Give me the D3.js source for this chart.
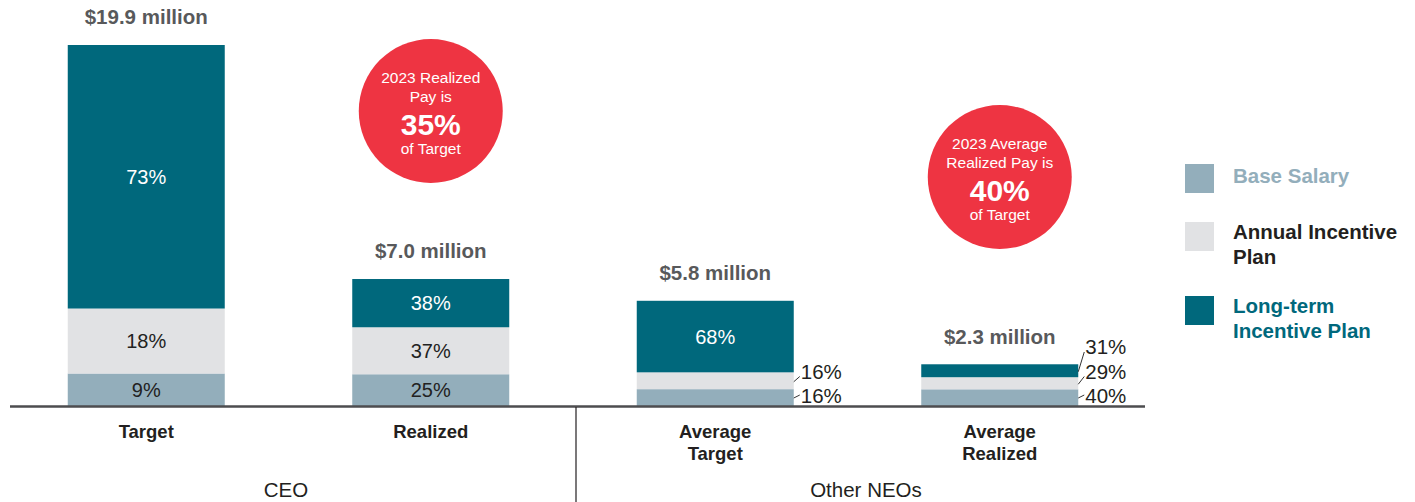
<!DOCTYPE html>
<html lang="en">
<head>
    <meta charset="UTF-8">
    <script src="https://cdnjs.cloudflare.com/ajax/libs/d3/7.8.5/d3.min.js"></script>
    <style>
        body { margin: 0; background: #fff; }
        svg text { font-family: "Liberation Sans", Arial, Helvetica, sans-serif; }
    </style>
</head>
<body>
<div id="viz">
    <svg style="width:1415px;height:502px;"></svg>
</div>
<script>
    // data
    const categories = ['Target', 'Realized', 'Average Target', 'Average Realized'];
    const groups = ['CEO', 'Other NEOs'];
    const totals = [19.9, 7.0, 5.8, 2.3];                 // $ million
    const totalLabels = ['$19.9 million', '$7.0 million', '$5.8 million', '$2.3 million'];
    const components = ['Base Salary', 'Annual Incentive Plan', 'Long-term Incentive Plan'];
    const basePct = [9, 25, 16, 40];
    const aipPct = [18, 37, 16, 29];
    const ltiPct = [73, 38, 68, 31];
    const callouts = [
        {cat: 'Realized', lines: ['2023 Realized', 'Pay is'], pct: '35%'},
        {cat: 'Average Realized', lines: ['2023 Average', 'Realized Pay is'], pct: '40%'}
    ];

    const colors = ['#93AEBB', '#E1E2E4', '#00687C'];
    const labelColors = ['#222', '#222', '#fff'];
    const legendText = ['#93AEBB', '#231F20', '#00687C'];

    const svg = d3.select('svg');

    const x = d3.scaleBand().domain(categories).range([4, 1142]);
    const barW = 157;
    const y = d3.scaleLinear().domain([0, 19.9]).range([406, 45]);
    const color = d3.scaleOrdinal().domain(components).range(colors);

    const rows = categories.map((c, i) => ({
        cat: c, total: totals[i], label: totalLabels[i],
        pcts: [basePct[i], aipPct[i], ltiPct[i]]
    }));

    const stack = d3.stack().keys([0, 1, 2]).value((d, k) => d.total * d.pcts[k] / 100);
    const series = stack(rows);

    const barX = d => x(d.cat) + x.bandwidth() / 2 - barW / 2;
    const segH = d => y(d[0]) - y(d[1]);
    const fits = d => segH(d) >= 25;

    // segments
    series.forEach((s, k) => {
        svg.append('g').selectAll('rect')
            .data(s).enter()
            .append('rect')
            .attr('x', d => barX(d.data))
            .attr('width', barW)
            .attr('y', d => y(d[1]))
            .attr('height', segH)
            .attr('fill', color(components[k]));

        // labels inside the bar
        svg.append('g').selectAll('text')
            .data(s.filter(fits)).enter()
            .append('text')
            .attr('x', d => barX(d.data) + barW / 2)
            .attr('y', d => (y(d[0]) + y(d[1])) / 2)
            .attr('dy', '0.36em')
            .attr('text-anchor', 'middle')
            .style('font-size', '20px')
            .style('fill', labelColors[k])
            .text(d => d.data.pcts[k] + '%');

        // labels outside with leader lines
        const out = svg.append('g').selectAll('g')
            .data(s.filter(d => !fits(d))).enter()
            .append('g');
        const ly = k2 => y(0) - 10 - k2 * 24.5;
        out.append('line')
            .attr('x1', d => barX(d.data) + barW)
            .attr('y1', d => k === 0 ? y(0) - 8 : (y(d[0]) + y(d[1])) / 2 + 1)
            .attr('x2', d => barX(d.data) + barW + 6)
            .attr('y2', d => ly(k) + (k === 0 ? -1 : 5))
            .attr('stroke', '#333')
            .attr('stroke-width', 1);
        out.append('text')
            .attr('x', d => barX(d.data) + barW + 7)
            .attr('y', d => ly(k))
            .attr('dy', '0.36em')
            .style('font-size', '20.5px')
            .style('fill', '#231F20')
            .text(d => d.data.pcts[k] + '%');
    });

    // totals above bars
    svg.append('g').selectAll('text')
        .data(rows).enter()
        .append('text')
        .attr('x', d => x(d.cat) + x.bandwidth() / 2)
        .attr('y', d => y(d.total) - 28)
        .attr('dy', '0.36em')
        .attr('text-anchor', 'middle')
        .style('font-size', '20.5px')
        .style('font-weight', 'bold')
        .style('fill', '#58595B')
        .text(d => d.label);

    // baseline and divider
    svg.append('line')
        .attr('x1', 10).attr('x2', 1145)
        .attr('y1', y(0) + 0.5).attr('y2', y(0) + 0.5)
        .attr('stroke', '#4d4d4f').attr('stroke-width', 2.5);
    const divX = (x('Realized') + x('Average Target') + x.bandwidth()) / 2 + 3;
    svg.append('line')
        .attr('x1', divX).attr('x2', divX)
        .attr('y1', y(0) + 1).attr('y2', 502)
        .attr('stroke', '#231F20').attr('stroke-width', 1.2);

    // category labels
    const catLab = svg.append('g').selectAll('text')
        .data(categories).enter()
        .append('text')
        .attr('y', 431)
        .attr('text-anchor', 'middle')
        .style('font-size', '18.5px')
        .style('font-weight', 'bold')
        .style('fill', '#231F20');
    catLab.each(function (d) {
        const t = d3.select(this);
        d.split(' ').forEach((w, i) => {
            t.append('tspan')
                .attr('x', x(d) + x.bandwidth() / 2)
                .attr('dy', i === 0 ? '0.36em' : '22px')
                .text(w);
        });
    });

    // group labels
    svg.append('g').selectAll('text')
        .data(groups).enter()
        .append('text')
        .attr('x', (d, i) => divX + (i === 0 ? -1 : 1) * 290)
        .attr('y', 490)
        .attr('dy', '0.36em')
        .attr('text-anchor', 'middle')
        .style('font-size', '20.5px')
        .style('fill', '#231F20')
        .text(d => d);

    // callout circles
    const circleY = [111, 177];
    const cg = svg.append('g').selectAll('g')
        .data(callouts).enter()
        .append('g')
        .attr('transform', (d, i) => `translate(${x(d.cat) + x.bandwidth() / 2},${circleY[i]})`);
    cg.append('circle').attr('r', 72).attr('fill', '#EE3442');
    cg.each(function (d) {
        const g = d3.select(this);
        d.lines.forEach((l, i) => {
            g.append('text').attr('y', -34 + i * 19).attr('dy', '0.36em')
                .attr('text-anchor', 'middle')
                .style('font-size', '15.5px').style('fill', '#fff').text(l);
        });
        g.append('text').attr('y', 13).attr('dy', '0.36em')
            .attr('text-anchor', 'middle')
            .style('font-size', '30px').style('font-weight', 'bold').style('fill', '#fff')
            .text(d.pct);
        g.append('text').attr('y', 37).attr('dy', '0.36em')
            .attr('text-anchor', 'middle')
            .style('font-size', '15.5px').style('fill', '#fff').text('of Target');
    });

    // legend
    const legendLines = [['Base Salary'], ['Annual Incentive', 'Plan'], ['Long-term', 'Incentive Plan']];
    const legendY = [164, 222, 296];
    const lg = svg.append('g').selectAll('g')
        .data(components).enter()
        .append('g')
        .attr('transform', (d, i) => `translate(1185,${legendY[i]})`);
    lg.append('rect').attr('width', 29).attr('height', 29).attr('fill', d => color(d));
    lg.each(function (d, i) {
        const g = d3.select(this);
        legendLines[i].forEach((l, j) => {
            g.append('text')
                .attr('x', 48).attr('y', (i === 0 ? 12 : 10) + j * 25).attr('dy', '0.36em')
                .style('font-size', '20.5px').style('font-weight', 'bold')
                .style('fill', legendText[i])
                .text(l);
        });
    });
</script>
</body>
</html>
